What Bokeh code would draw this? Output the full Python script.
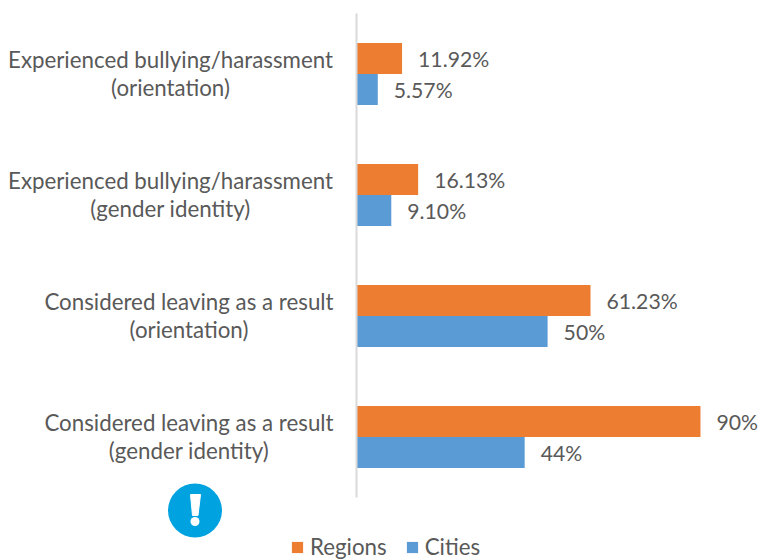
from bokeh.plotting import figure
from bokeh.models import Range1d, Legend, LegendItem, ColumnDataSource
from bokeh.core.properties import value
from bokeh.embed import file_html
from bokeh.resources import INLINE

categories = ["Experienced bullying/harassment\n(orientation)",
              "Experienced bullying/harassment\n(gender identity)",
              "Considered leaving as a result\n(orientation)",
              "Considered leaving as a result\n(gender identity)"]
regions = [11.92, 16.13, 61.23, 90]
cities = [5.57, 9.10, 50, 44]
regions_labels = ["11.92%", "16.13%", "61.23%", "90%"]
cities_labels = ["5.57%", "9.10%", "50%", "44%"]
cat_pos = [0, 1, 2, 3]

W, H = 759, 559
PX_PER_X = 3.822
PX_PER_CAT = 121.0
X0_PAGE = 356.0
Y0_PAGE = 73.5
FONT = "Lato"
FS = "22.3px"
FS_VAL = "21.2px"
TXT = "#595959"

def dx(px):
    return (px - X0_PAGE) / PX_PER_X

def dy(py):
    return (py - Y0_PAGE) / PX_PER_CAT

p = figure(width=W, height=H, output_backend="svg", toolbar_location=None,
           x_range=Range1d(dx(0), dx(W)), y_range=Range1d(dy(H), dy(0)),
           min_border=0, outline_line_color=None, background_fill_color="white",
           border_fill_color="white")
p.axis.visible = False
p.grid.visible = False

bar_h = 31 / PX_PER_CAT
off = 15.5 / PX_PER_CAT

reg = ColumnDataSource(dict(y=[c - off for c in cat_pos], v=regions, t=regions_labels))
cit = ColumnDataSource(dict(y=[c + off for c in cat_pos], v=cities, t=cities_labels))

r1 = p.hbar(y="y", right="v", left=0, height=bar_h, source=reg, color="#ED7D31", line_color=None)
r2 = p.hbar(y="y", right="v", left=0, height=bar_h, source=cit, color="#5B9BD5", line_color=None)

p.segment(x0=[0], x1=[0], y0=[-0.5], y1=[3.5], line_color="#D9D9D9", line_width=2)

for s in (reg, cit):
    p.text(x="v", y="y", text="t", source=s, x_offset=16, text_align="left", text_baseline="middle",
           text_font=value(FONT), text_font_size=FS_VAL, text_color=TXT)

lab = ColumnDataSource(dict(y=cat_pos, t=categories, off=[-186, -186, -167.5, -167.5]))
p.text(x=0, y="y", text="t", source=lab, x_offset="off", y_offset=-0.5, text_align="center",
       text_baseline="middle", text_line_height=1.07,
       text_font=value(FONT), text_font_size=FS, text_color=TXT)

# alert icon
p.scatter(x=[dx(194.5)], y=[dy(510)], size=54, marker="circle", color="#00A3E0", line_color=None)
p.patch(x=[dx(190), dx(200), dx(197.5), dx(192)], y=[dy(494), dy(494), dy(515), dy(515)],
        color="white", line_color="white", line_join="round", line_width=1)
p.scatter(x=[dx(194.5)], y=[dy(521)], size=9, marker="circle", color="white", line_color=None)

leg = Legend(items=[LegendItem(label="Regions", renderers=[r1]), LegendItem(label="Cities", renderers=[r2])],
             orientation="horizontal", location=(290, -1), glyph_width=14, glyph_height=14,
             label_standoff=6, spacing=18, padding=0, margin=0, border_line_color=None,
             background_fill_alpha=0, label_text_font=FONT, label_text_font_size=FS,
             label_text_color=TXT, label_height=14)
p.add_layout(leg, "center")

open("out.html", "w").write(file_html(p, INLINE))
